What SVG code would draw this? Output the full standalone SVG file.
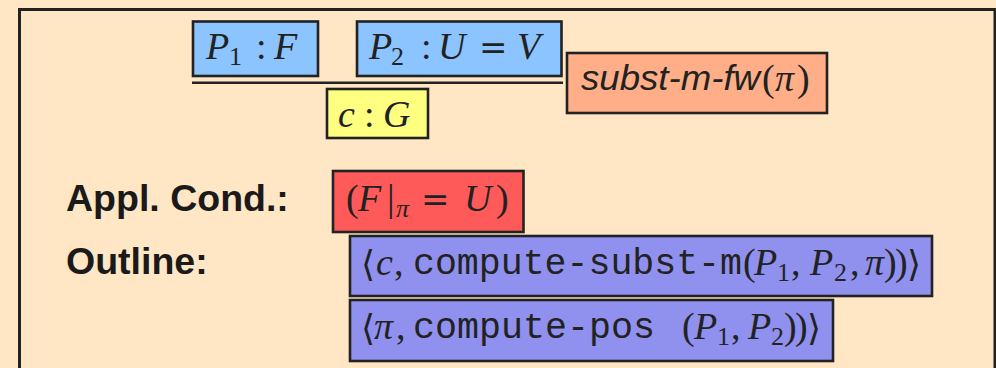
<svg xmlns="http://www.w3.org/2000/svg" width="996" height="368" viewBox="0 0 996 368">
<style>
.box{stroke:#222;stroke-width:2.6}
.m{font-family:"Liberation Serif","DejaVu Serif",serif;font-size:38px;fill:#222}
.i{font-style:italic}
.sub{font-size:26px}
.eq{font-family:"DejaVu Serif","Liberation Serif",serif;font-size:34px;font-style:normal}
.tt{font-family:"Liberation Mono","DejaVu Sans Mono",monospace;font-size:36px;fill:#222}
.ab{font-family:"DejaVu Serif","DejaVu Sans",serif;font-size:36px;fill:#222}
.lbl{font-family:"Liberation Sans",Arial,sans-serif;font-weight:bold;font-size:37.5px;fill:#1a1a1a}
.sf{font-family:"Liberation Sans",Arial,sans-serif;font-style:italic;font-size:35px;fill:#222}
</style>
<rect x="0" y="0" width="996" height="368" fill="#FFE6C4"/>
<rect id="frame" x="19.5" y="9.5" width="975.5" height="420" fill="#FFE6C4" stroke="#222" stroke-width="3"/>

<g id="connectors">
<line x1="192" y1="82.7" x2="563" y2="82.7" stroke="#222" stroke-width="2.6"/>
</g>

<g id="p1">
<rect class="box" x="193" y="21.5" width="125" height="54.5" fill="#8CC4FF"/>
<text class="m" y="59"><tspan class="i" x="206">P</tspan><tspan class="sub" x="229" y="65">1</tspan><tspan x="256" y="59">:</tspan><tspan class="i" x="274">F</tspan></text>
</g>

<g id="p2">
<rect class="box" x="357" y="21.5" width="204.5" height="54.5" fill="#8CC4FF"/>
<text class="m" y="59"><tspan class="i" x="369">P</tspan><tspan class="sub" x="391" y="65">2</tspan><tspan x="421" y="59">:</tspan><tspan class="i" x="438">U</tspan><tspan class="eq" x="479">=</tspan><tspan class="i" x="517">V</tspan></text>
</g>

<g id="concl">
<rect class="box" x="327" y="89" width="101" height="49" fill="#FFFF80"/>
<text class="m" y="127"><tspan class="i" x="338">c</tspan><tspan x="364">:</tspan><tspan class="i" x="383">G</tspan></text>
</g>

<g id="rule">
<rect class="box" x="567" y="53" width="260" height="60" fill="#FFAE88"/>
<text class="sf" x="581" y="90" textLength="179" lengthAdjust="spacingAndGlyphs">subst-m-fw</text>
<text class="m" y="91"><tspan x="762">(</tspan><tspan class="i" x="775">π</tspan><tspan x="797">)</tspan></text>
</g>

<g id="appl-label">
<text class="lbl" x="66" y="211">Appl. Cond.:</text>
</g>
<g id="outline-label">
<text class="lbl" x="66" y="274">Outline:</text>
</g>

<g id="cond">
<rect class="box" x="333" y="171" width="190.5" height="61" fill="#FF5A5A"/>
<text class="m" y="211"><tspan x="346">(</tspan><tspan class="i" x="358">F</tspan><tspan x="387">|</tspan><tspan class="i sub" x="396" y="217">π</tspan><tspan class="eq" x="421" y="211">=</tspan><tspan class="i" x="464">U</tspan><tspan x="496">)</tspan></text>
</g>

<g id="outline1">
<rect class="box" x="350" y="236" width="582" height="60" fill="#9090EE"/>
<text class="ab" x="361" y="276">⟨</text>
<text class="m" y="275"><tspan class="i" x="376">c</tspan><tspan x="394">,</tspan></text>
<text class="tt" x="413" y="274" textLength="329" lengthAdjust="spacingAndGlyphs">compute-subst-m</text>
<text class="m" y="275"><tspan x="743">(</tspan><tspan class="i" x="754">P</tspan><tspan class="sub" x="777" y="281">1</tspan><tspan x="791" y="275">,</tspan><tspan class="i" x="810">P</tspan><tspan class="sub" x="834" y="281">2</tspan><tspan x="850" y="275">,</tspan><tspan class="i" x="865">π</tspan><tspan x="884">)</tspan><tspan x="895">)</tspan></text>
<text class="ab" x="907" y="276">⟩</text>
</g>

<g id="outline2">
<rect class="box" x="350" y="300" width="483" height="61" fill="#9090EE"/>
<text class="ab" x="361" y="340">⟨</text>
<text class="m" y="339"><tspan class="i" x="374">π</tspan><tspan x="396">,</tspan></text>
<text class="tt" x="413" y="338" textLength="242" lengthAdjust="spacingAndGlyphs">compute-pos</text>
<text class="m" y="339"><tspan x="682">(</tspan><tspan class="i" x="694">P</tspan><tspan class="sub" x="717" y="345">1</tspan><tspan x="731" y="339">,</tspan><tspan class="i" x="748">P</tspan><tspan class="sub" x="771" y="345">2</tspan><tspan x="784" y="339">)</tspan><tspan x="795">)</tspan></text>
<text class="ab" x="807" y="340">⟩</text>
</g>
</svg>
